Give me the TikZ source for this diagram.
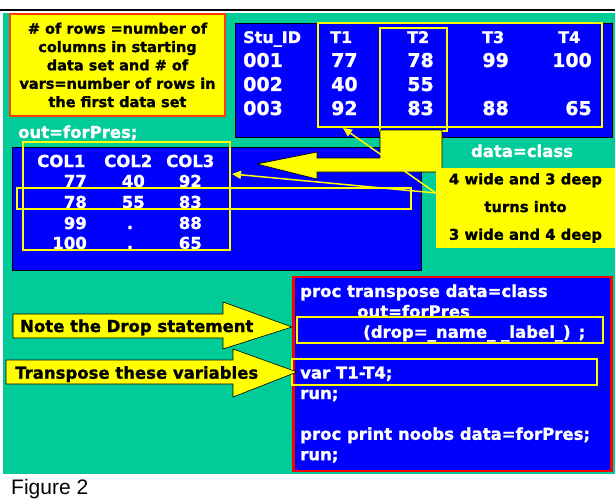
\documentclass[tikz,border=0pt]{standalone}
\usepackage{fontspec}
\setmainfont{DejaVu Sans}[BoldFeatures={FakeBold=1.2}]
\newfontfamily\captionfont{Liberation Sans}
\usetikzlibrary{arrows.meta}

\definecolor{slideteal}{RGB}{0,204,153}
\definecolor{slideblue}{RGB}{0,0,255}
\definecolor{slideyellow}{RGB}{255,255,0}
\definecolor{slidered}{RGB}{255,0,0}
\definecolor{slideorange}{RGB}{255,64,0}

\newcommand{\slidesize}[1]{\fontsize{#1}{#1}\selectfont}

\begin{document}
\begin{tikzpicture}[
  x=1pt, y=-1pt,
  every node/.style={inner sep=0pt},
  hdr/.style={text=white, font=\bfseries\slidesize{16}, anchor=base west},
  val/.style={text=white, font=\bfseries\slidesize{19}},
  wtxt/.style={text=white, font=\bfseries\slidesize{16.5}},
  btxt/.style={text=black, font=\bfseries\slidesize{16.5}, anchor=base west},
  code/.style={wtxt, anchor=base west},
  panel/.style={fill=slideblue, draw=black, line width=0.8pt},
  yframe/.style={draw=slideyellow, line width=1.6pt},
  blockarrow/.style={fill=slideyellow, draw=black, line width=0.6pt},
  pointer/.style={draw=slideyellow, line width=1.5pt, -{Triangle[length=9pt,width=8pt]}}
]
  \useasboundingbox (0,0) rectangle (615,500);

  % --- slide background ---
  \draw[black, line width=2.5pt] (0,10) -- (615,10);
  \fill[slideteal] (3,13) rectangle (615,474);

  % --- remark, top left ---
  \node[fill=slideyellow, draw=slideorange, line width=2pt,
        minimum width=215pt, minimum height=102pt, align=center,
        font=\bfseries\fontsize{14.5}{18.35}\selectfont] (remark) at (117.5,65)
    {\# of rows =number of\\columns in starting\\data set and \# of\\vars=number of rows in\\the first data set};

  % --- data=class ---
  \node[panel, minimum width=377pt, minimum height=114pt] (classtab) at (423.5,80) {};
  \node[hdr] (hid) at (243,43) {Stu\_ID};
  \node[hdr] (ht1) at (330,43) {T1};
  \node[hdr] (ht2) at (407,43) {T2};
  \node[hdr] (ht3) at (482,43) {T3};
  \node[hdr] (ht4) at (558,43) {T4};

  \node[val, anchor=base west] (id1) at (243,67) {001};
  \node[val, anchor=base west] (id2) at (243,91) {002};
  \node[val, anchor=base west] (id3) at (243,115) {003};
  \node[val, anchor=base west] (a1) at (331,67) {77};
  \node[val, anchor=base west] (a2) at (331,91) {40};
  \node[val, anchor=base west] (a3) at (331,115) {92};
  \node[val, anchor=base east] (b1) at (434,67) {78};
  \node[val, anchor=base east] (b2) at (434,91) {55};
  \node[val, anchor=base east] (b3) at (434,115) {83};
  \node[val, anchor=base east] (c1) at (509,67) {99};
  \node[val, anchor=base east] (c3) at (509,115) {88};
  \node[val, anchor=base east] (d1) at (592,67) {100};
  \node[val, anchor=base east] (d3) at (592,115) {65};

  \draw[yframe] (318,23) rectangle (602,127);
  \draw[yframe] (380,28) rectangle (447,131);

  \node[wtxt, anchor=base west] (outlbl) at (18,138) {out=forPres;};
  \node[wtxt, anchor=base] (datalbl) at (522,157) {data=class};

  % --- out=forPres ---
  \node[panel, minimum width=409pt, minimum height=123pt] (prestab) at (216.5,208.5) {};
  \node[hdr, font=\bfseries\slidesize{16.5}] (col1) at (37,167) {COL1};
  \node[hdr, font=\bfseries\slidesize{16.5}] (col2) at (104,167) {COL2};
  \node[hdr, font=\bfseries\slidesize{16.5}] (col3) at (166,167) {COL3};

  \node[wtxt, anchor=base east] (p11) at (87,187) {77};
  \node[wtxt, anchor=base east] (p12) at (145,187) {40};
  \node[wtxt, anchor=base east] (p13) at (202,187) {92};
  \node[wtxt, anchor=base east] (p21) at (87,208) {78};
  \node[wtxt, anchor=base east] (p22) at (145,208) {55};
  \node[wtxt, anchor=base east] (p23) at (202,208) {83};
  \node[wtxt, anchor=base east] (p31) at (87,229) {99};
  \node[wtxt, anchor=base] (p32) at (130,229) {.};
  \node[wtxt, anchor=base east] (p33) at (202,229) {88};
  \node[wtxt, anchor=base east] (p41) at (87,249) {100};
  \node[wtxt, anchor=base] (p42) at (130,249) {.};
  \node[wtxt, anchor=base east] (p43) at (202,249) {65};

  \draw[yframe] (23,142) rectangle (230,250);
  \draw[yframe] (17,188) rectangle (411,209);

  % bent block arrow from T2 down and left
  \draw[blockarrow] (380,130) -- (442,130) -- (442,172) -- (317,172) -- (317,179)
    -- (257,164) -- (317,152) -- (317,158) -- (380,158) -- cycle;

  % --- shape note ---
  \node[fill=slideyellow, minimum width=179pt, minimum height=80pt, align=center,
        font=\bfseries\fontsize{14.8}{27.7}\selectfont] (wide) at (525.5,208)
    {4 wide and 3 deep\\turns into\\3 wide and 4 deep};

  \coordinate (t1tip) at (343,128);
  \coordinate (coltip) at (232,174);
  \draw[pointer] ([yshift=15pt]wide.west) -- (t1tip);
  \draw[pointer] ([yshift=15pt]wide.west) -- (coltip);

  % --- SAS code ---
  \node[fill=slideblue, draw=slidered, line width=2.5pt,
        minimum width=318pt, minimum height=194pt] (codebox) at (452.5,374) {};
  \node[code] (ln1) at (300,297) {proc transpose data=class};
  \node[code] (ln2) at (357,317.4) {out=forPres};
  \node[code] (ln3) at (363,337.8) {(drop=\_name\_ \_label\_)\hspace{8pt};};
  \node[code] (ln4) at (300,378.6) {var T1-T4;};
  \node[code] (ln5) at (300,399) {run;};
  \node[code] (ln6) at (300,439.8) {proc print noobs data=forPres;};
  \node[code] (ln7) at (300,460.2) {run;};

  \draw[yframe] (297,317) rectangle (603,343);
  \draw[yframe] (292,359) rectangle (597,385);

  % --- callout arrows ---
  \draw[blockarrow] (13,314) -- (223,314) -- (223,302) -- (292,327) -- (223,349)
    -- (223,338) -- (13,338) -- cycle;
  \node[btxt] (droplbl) at (20,332) {Note the Drop statement};

  \draw[blockarrow] (6,360) -- (233,360) -- (233,349) -- (297,372) -- (233,397)
    -- (233,384) -- (6,384) -- cycle;
  \node[btxt] (varlbl) at (15,378.7) {Transpose these variables};

  \node[font=\captionfont\slidesize{21}, anchor=base west] (caption) at (11,494.5) {Figure 2};
\end{tikzpicture}
\end{document}
